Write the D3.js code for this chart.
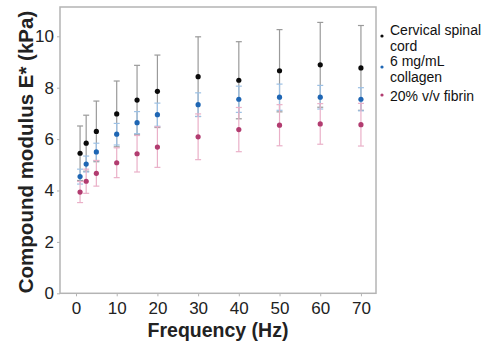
<!DOCTYPE html>
<html><head><meta charset="utf-8">
<script src="https://cdn.jsdelivr.net/npm/d3@7"></script>
<style>body{margin:0;background:#fff}svg{display:block}</style>
</head><body>
<svg id="c" width="487" height="351"></svg>
<script>
const freq = [1, 2.5, 5, 10, 15, 20, 30, 40, 50, 60, 70];
const cordMean = [5.45, 5.84, 6.30, 6.98, 7.52, 7.86, 8.43, 8.29, 8.66, 8.89, 8.77];
const cordSD = [1.06, 1.09, 1.18, 1.28, 1.35, 1.41, 1.55, 1.50, 1.60, 1.65, 1.65];
const collagenMean = [4.54, 5.03, 5.50, 6.19, 6.64, 6.95, 7.34, 7.55, 7.63, 7.63, 7.55];
const collagenSD = [0.29, 0.31, 0.34, 0.42, 0.43, 0.45, 0.46, 0.51, 0.51, 0.46, 0.45];
const fibrinMean = [3.94, 4.36, 4.67, 5.08, 5.43, 5.69, 6.09, 6.37, 6.54, 6.59, 6.56];
const fibrinSD = [0.41, 0.47, 0.50, 0.58, 0.71, 0.79, 0.89, 0.86, 0.80, 0.79, 0.83];
const xTicks = [0, 10, 20, 30, 40, 50, 60, 70];
const yTicks = [0, 2, 4, 6, 8, 10];
const seriesNames = [["Cervical spinal", "cord"], ["6 mg/mL", "collagen"], ["20% v/v fibrin"]];

const FONT = "Liberation Sans";
const series = [
  {mean: cordMean, sd: cordSD, dot: "#0a0a0a", bar: "#9a9a9a"},
  {mean: collagenMean, sd: collagenSD, dot: "#1e66b4", bar: "#9cc0e4"},
  {mean: fibrinMean, sd: fibrinSD, dot: "#b23c70", bar: "#eab0c8"}
];

const svg = d3.select("#c").attr("font-family", FONT);
const L = 60, R = 376, T = 7, B = 293.3;
const x = d3.scaleLinear().domain([-3.93, 73.7]).range([L, R]);
const y = d3.scaleLinear().domain([0, 11.14]).range([B, T]);

svg.append("rect").attr("x", L).attr("y", T).attr("width", R - L).attr("height", B - T)
  .attr("fill", "none").attr("stroke", "#b4b4b4").attr("stroke-width", 1.5);

const xAxis = svg.append("g").attr("transform", `translate(0,${B})`)
  .call(d3.axisBottom(x).tickValues(xTicks).tickSize(3).tickPadding(6).tickFormat(d3.format("d")));
const yAxis = svg.append("g").attr("transform", `translate(${L},0)`)
  .call(d3.axisLeft(y).tickValues(yTicks).tickSize(3).tickPadding(3).tickFormat(d3.format("d")));
[xAxis, yAxis].forEach(g => {
  g.attr("font-family", FONT).attr("font-size", 17);
  g.select(".domain").remove();
  g.selectAll(".tick line").attr("stroke", "#b4b4b4");
  g.selectAll(".tick text").attr("fill", "#222");
});

series.forEach(s => {
  const g = svg.append("g");
  freq.forEach((f, i) => {
    const cx = x(f), lo = y(s.mean[i] - s.sd[i]), hi = y(s.mean[i] + s.sd[i]);
    g.append("line").attr("x1", cx).attr("x2", cx).attr("y1", lo).attr("y2", hi)
      .attr("stroke", s.bar).attr("stroke-width", 1.2);
    [lo, hi].forEach(yy => g.append("line").attr("x1", cx - 3).attr("x2", cx + 3)
      .attr("y1", yy).attr("y2", yy).attr("stroke", s.bar).attr("stroke-width", 1.2));
  });
});
series.forEach(s => {
  svg.append("g").selectAll("circle").data(freq).join("circle")
    .attr("cx", d => x(d)).attr("cy", (d, i) => y(s.mean[i])).attr("r", 2.6)
    .attr("fill", s.dot);
});

svg.append("text").attr("x", 218).attr("y", 337).attr("text-anchor", "middle")
  .attr("font-family", FONT).attr("font-size", 19.5).attr("font-weight", "bold").attr("fill", "#222")
  .text("Frequency (Hz)");
svg.append("text").attr("transform", "translate(33,152) rotate(-90)").attr("text-anchor", "middle")
  .attr("font-family", FONT).attr("font-size", 20.5).attr("font-weight", "bold").attr("fill", "#222")
  .text("Compound modulus E* (kPa)");

const legY = [35, 66, 101];
const dotY = [36, 67, 95];
seriesNames.forEach((lines, k) => {
  svg.append("circle").attr("cx", 382).attr("cy", dotY[k]).attr("r", 1.6).attr("fill", series[k].dot);
  lines.forEach((t, j) => {
    svg.append("text").attr("x", 390).attr("y", legY[k] + j * 15.8)
      .attr("font-family", FONT).attr("font-size", 14).attr("fill", "#111").text(t);
  });
});
</script>
</body></html>
